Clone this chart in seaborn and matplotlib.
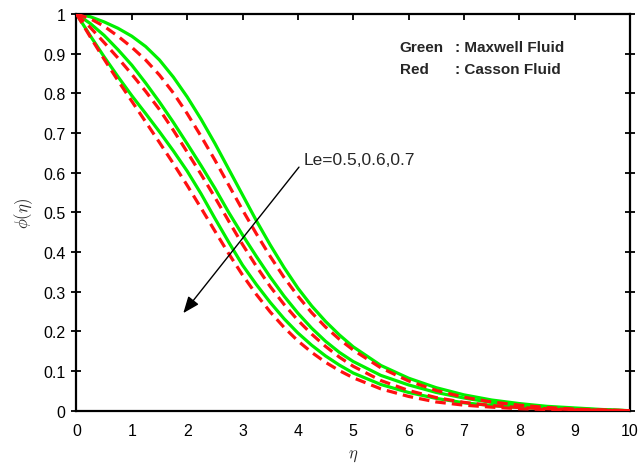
import numpy as np
import pandas as pd
import matplotlib
matplotlib.use("Agg")
import matplotlib.pyplot as plt
import seaborn as sns

# similarity variable
eta = [0.0, 0.25, 0.5, 0.75, 1.0, 1.25, 1.5, 1.75, 2.0, 2.25, 2.5, 2.75, 3.0,
       3.25, 3.5, 3.75, 4.0, 4.25, 4.5, 4.75, 5.0,
       5.5, 6.0, 6.5, 7.0, 7.5, 8.0, 8.5, 9.0, 9.5, 10.0]

# concentration profiles phi(eta), Le = 0.5, 0.6, 0.7
maxwell_le05 = [1.0, 0.993, 0.980, 0.964, 0.944, 0.918, 0.884, 0.841, 0.791, 0.735, 0.674, 0.609, 0.544,
                0.479, 0.418, 0.361, 0.309, 0.264, 0.225, 0.191, 0.161,
                0.114, 0.082, 0.058, 0.040, 0.027, 0.018, 0.011, 0.007, 0.003, 0.0]
maxwell_le06 = [1.0, 0.976, 0.946, 0.910, 0.871, 0.826, 0.778, 0.727, 0.673, 0.618, 0.561, 0.500, 0.443,
                0.389, 0.337, 0.289, 0.246, 0.208, 0.175, 0.147, 0.124,
                0.089, 0.065, 0.046, 0.032, 0.021, 0.013, 0.008, 0.005, 0.002, 0.0]
maxwell_le07 = [1.0, 0.945, 0.892, 0.842, 0.794, 0.749, 0.703, 0.655, 0.604, 0.547, 0.485, 0.425, 0.367,
                0.318, 0.273, 0.232, 0.196, 0.165, 0.138, 0.115, 0.095,
                0.066, 0.046, 0.031, 0.020, 0.013, 0.008, 0.005, 0.003, 0.001, 0.0]

casson_le05 = [1.0, 0.988, 0.969, 0.944, 0.916, 0.884, 0.846, 0.801, 0.749, 0.692, 0.632, 0.569, 0.506,
               0.446, 0.389, 0.336, 0.289, 0.247, 0.211, 0.180, 0.153,
               0.108, 0.075, 0.051, 0.034, 0.022, 0.014, 0.008, 0.004, 0.002, 0.0]
casson_le06 = [1.0, 0.966, 0.928, 0.889, 0.848, 0.805, 0.759, 0.707, 0.652, 0.596, 0.538, 0.478, 0.419,
               0.364, 0.313, 0.268, 0.228, 0.193, 0.162, 0.135, 0.112,
               0.076, 0.051, 0.033, 0.021, 0.013, 0.008, 0.005, 0.003, 0.001, 0.0]
casson_le07 = [1.0, 0.942, 0.886, 0.832, 0.780, 0.728, 0.676, 0.623, 0.568, 0.511, 0.453, 0.396, 0.342,
               0.293, 0.249, 0.210, 0.176, 0.147, 0.122, 0.101, 0.083,
               0.055, 0.036, 0.022, 0.014, 0.009, 0.005, 0.003, 0.002, 0.001, 0.0]

x_ticks = list(range(0, 11))
y_ticks = [0.0, 0.1, 0.2, 0.3, 0.4, 0.5, 0.6, 0.7, 0.8, 0.9, 1.0]
y_tick_labels = ["0", "0.1", "0.2", "0.3", "0.4", "0.5", "0.6", "0.7", "0.8", "0.9", "1"]

sns.set_style("white")
plt.rcParams["font.family"] = ["Liberation Sans", "DejaVu Sans"]
plt.rcParams["mathtext.fontset"] = "cm"

fig = plt.figure(figsize=(6.41, 4.64), dpi=100)
ax = fig.add_axes([0.1193, 0.1127, 0.9828 - 0.1193, 0.9677 - 0.1127])

green = "#00f000"
red = "#ff1010"

for vals in (maxwell_le05, maxwell_le06, maxwell_le07):
    sns.lineplot(x=eta, y=vals, ax=ax, color=green, linewidth=2.3, zorder=2)
for vals in (casson_le05, casson_le06, casson_le07):
    sns.lineplot(x=eta, y=vals, ax=ax, color=red, linewidth=2.3,
                 linestyle=(0, (3.3, 1.9)), zorder=3)

ax.set_xlim(0, 10)
ax.set_ylim(0, 1)
ax.set_xticks(x_ticks)
ax.set_xticklabels([str(t) for t in x_ticks])
ax.set_yticks(y_ticks)
ax.set_yticklabels(y_tick_labels)

for s in ax.spines.values():
    s.set_visible(True)
    s.set_linewidth(1.6)
    s.set_color("black")

ax.tick_params(axis="both", which="major", labelsize=11.5, colors="black",
               length=4, width=1.3, top=True, right=True, direction="in")
ax.tick_params(axis="x", pad=9)
ax.tick_params(axis="y", which="major", left=True, direction="inout", length=7, pad=4.5)

ax.set_xlabel(r"$\eta$", fontsize=12, labelpad=7)
ax.set_ylabel(r"$\phi(\eta)$", fontsize=12, labelpad=6)

# key for the two fluids
ax.text(5.84, 0.917, "Green", fontsize=11, fontweight="bold", ha="left", va="center")
ax.text(6.83, 0.917, ": Maxwell Fluid", fontsize=11, fontweight="bold", ha="left", va="center")
ax.text(5.84, 0.862, "Red", fontsize=11, fontweight="bold", ha="left", va="center")
ax.text(6.83, 0.862, ": Casson Fluid", fontsize=11, fontweight="bold", ha="left", va="center")

# direction of increasing Lewis number
ax.text(4.10, 0.633, "Le=0.5,0.6,0.7", fontsize=12.5, ha="left", va="center")
ax.annotate("", xy=(1.93, 0.246), xytext=(4.02, 0.614),
            arrowprops=dict(arrowstyle="-|>,head_length=1.0,head_width=0.4",
                            color="black", lw=1.0, shrinkA=0, shrinkB=0))

fig.savefig("out.png", dpi=100)
